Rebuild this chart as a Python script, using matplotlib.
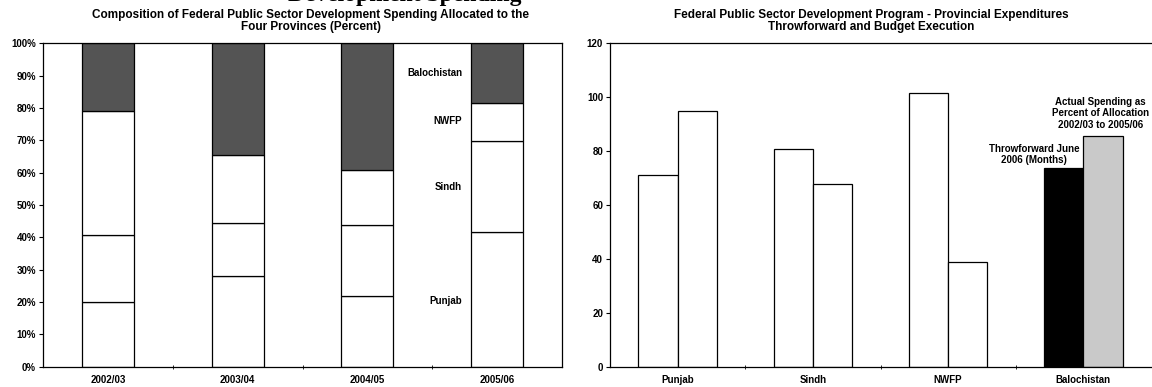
import numpy as np
import matplotlib
matplotlib.use('Agg')
import matplotlib.pyplot as plt

plt.rcParams['font.family'] = ['Liberation Sans', 'DejaVu Sans']
plt.rcParams['font.weight'] = 'bold'

# left chart: share of federal PSDP by province (percent)
years = ['2002/03', '2003/04', '2004/05', '2005/06']
punjab = [20.0, 28.2, 22.0, 41.5]
sindh = [20.6, 16.3, 21.7, 28.3]
nwfp = [38.4, 21.0, 17.0, 11.8]
baloch = [21.0, 34.5, 39.3, 18.4]
prov_labels = ['Punjab', 'Sindh', 'NWFP', 'Balochistan']
label_y = [20.4, 55.7, 76.0, 90.8]

# right chart: throwforward (months) and actual spending as % of allocation
provinces = ['Punjab', 'Sindh', 'NWFP', 'Balochistan']
throwforward = [71.1, 80.8, 101.7, 73.6]
spending_pct = [95.0, 67.8, 39.0, 85.6]

fig = plt.figure(figsize=(11.52, 3.87), dpi=100)

# heading of the page, cut off at the top edge like in the scan
fig.text(522 / 1152, 1 - 0.5 / 387, 'Development Spending', ha='right', va='baseline',
         fontsize=17, family='Liberation Serif', fontweight='bold')

ax1 = fig.add_axes([43 / 1152, 1 - 366.7 / 387, (562 - 43) / 1152, (366.7 - 43.3) / 387])
x = np.arange(len(years))
w = 0.4
bottom = np.zeros(len(years))
for vals, fc in zip([punjab, sindh, nwfp, baloch], ['white', 'white', 'white', '#545454']):
    ax1.bar(x, vals, w, bottom=bottom, color=fc, edgecolor='black', linewidth=0.9)
    bottom += np.array(vals)
ax1.set_ylim(0, 100)
ax1.set_xlim(-0.5, 3.5)
ax1.set_yticks(np.arange(0, 101, 10))
ax1.set_yticklabels([f'{v}%' for v in range(0, 101, 10)])
ax1.set_xticks(x)
ax1.set_xticklabels(years)
ax1.set_xticks([0.5, 1.5, 2.5], minor=True)
ax1.tick_params(axis='x', which='major', length=0, pad=6)
ax1.tick_params(axis='x', which='minor', length=3, direction='inout')
ax1.tick_params(axis='y', length=3, pad=2)
for t in ax1.get_xticklabels() + ax1.get_yticklabels():
    t.set_fontsize(7)
    t.set_fontweight('bold')
for s in ax1.spines.values():
    s.set_linewidth(0.9)
for lab, yy in zip(prov_labels, label_y):
    ax1.text(2.73, yy, lab, ha='right', va='center', fontsize=7, fontweight='bold')
fig.text(311 / 1152, 1 - 21 / 387,
         'Composition of Federal Public Sector Development Spending Allocated to the\nFour Provinces (Percent)',
         ha='center', va='center', fontsize=8.5, fontweight='bold', linespacing=0.95)

ax2 = fig.add_axes([610 / 1152, 1 - 366.7 / 387, (1151 - 610) / 1152, (366.7 - 43.3) / 387])
xp = np.arange(len(provinces))
bw = 0.29
c1 = ['white', 'white', 'white', 'black']
c2 = ['white', 'white', 'white', '#c9c9c9']
ax2.bar(xp - bw / 2, throwforward, bw, color=c1, edgecolor='black', linewidth=0.9)
ax2.bar(xp + bw / 2, spending_pct, bw, color=c2, edgecolor='black', linewidth=0.9)
ax2.set_ylim(0, 120)
ax2.set_xlim(-0.5, 3.5)
ax2.set_yticks(np.arange(0, 121, 20))
ax2.set_xticks(xp)
ax2.set_xticklabels(provinces)
ax2.set_xticks([0.5, 1.5, 2.5], minor=True)
ax2.tick_params(axis='x', which='major', length=0, pad=6)
ax2.tick_params(axis='x', which='minor', length=3, direction='inout')
ax2.tick_params(axis='y', length=3, pad=2)
for t in ax2.get_xticklabels() + ax2.get_yticklabels():
    t.set_fontsize(7)
    t.set_fontweight('bold')
for s in ax2.spines.values():
    s.set_linewidth(0.9)
ax2.spines['right'].set_visible(False)
ax2.text(3 + bw / 2 - 0.02, 94.0,
         'Actual Spending as\nPercent of Allocation\n2002/03 to 2005/06',
         ha='center', va='center', fontsize=7, fontweight='bold', linespacing=1.2)
ax2.text(2.635, 78.7, 'Throwforward June\n2006 (Months)',
         ha='center', va='center', fontsize=7, fontweight='bold', linespacing=1.2)
fig.text(871 / 1152, 1 - 21 / 387,
         'Federal Public Sector Development Program - Provincial Expenditures\nThrowforward and Budget Execution',
         ha='center', va='center', fontsize=8.5, fontweight='bold', linespacing=0.95)

fig.savefig('out.png', dpi=100)
